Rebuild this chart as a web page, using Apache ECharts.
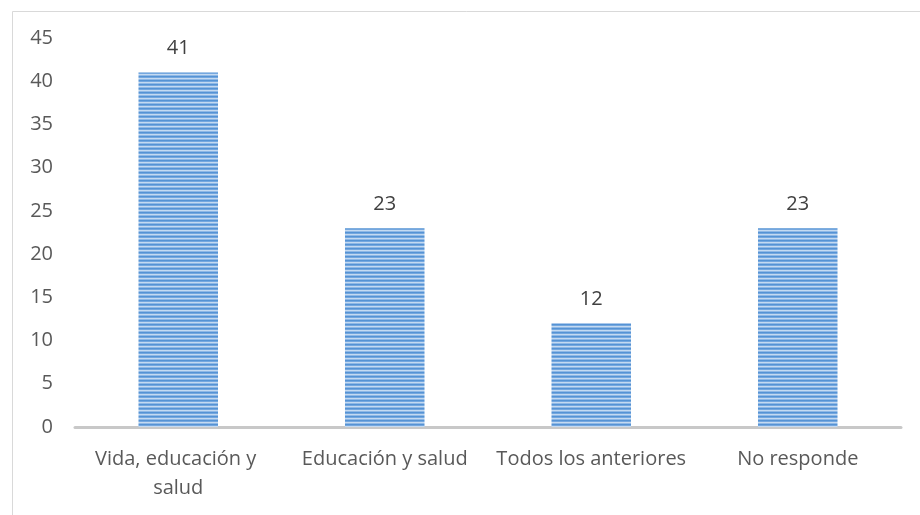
<!DOCTYPE html>
<html>
<head>
<meta charset="utf-8">
<script src="https://cdn.jsdelivr.net/npm/echarts@6/dist/echarts.min.js"></script>
<style>html,body{margin:0;padding:0;background:#fff}#c{width:920px;height:515px}</style>
</head>
<body>
<div id="c"></div>
<script>
const categories = ['Vida, educación y salud', 'Educación y salud', 'Todos los anteriores', 'No responde'];
const values = [41, 23, 12, 23];
const yTicks = {min: 0, max: 45, interval: 5};

function stripePattern() {
  const cv = document.createElement('canvas');
  cv.width = 4; cv.height = 4;
  const ctx = cv.getContext('2d');
  const rows = ['#5593d4', '#74a7df', '#c4daf1', '#8fb8e6'];
  rows.forEach((c, i) => { ctx.fillStyle = c; ctx.fillRect(0, i, 4, 1); });
  return cv;
}

const chart = echarts.init(document.getElementById('c'), null, {renderer: 'canvas'});
const font = '"Open Sans", sans-serif';
chart.setOption({
  animation: false,
  backgroundColor: '#fff',
  graphic: [{
    type: 'rect', left: 10, top: 9,
    shape: {width: 930, height: 520},
    style: {fill: 'none', stroke: '#d9d9d9', lineWidth: 1}
  }],
  grid: {left: 75, right: 19, top: 38, bottom: 88, containLabel: false},
  xAxis: {
    type: 'category',
    data: categories,
    axisLine: {lineStyle: {color: '#c8c8c8', width: 3}},
    axisTick: {show: false},
    axisLabel: {
      color: '#595959', fontFamily: font, fontSize: 20, margin: 18,
      lineHeight: 29, width: 200, overflow: 'break', interval: 0
    }
  },
  yAxis: {
    type: 'value', min: yTicks.min, max: yTicks.max, interval: yTicks.interval,
    axisLine: {show: false}, axisTick: {show: false}, splitLine: {show: false},
    axisLabel: {color: '#595959', fontFamily: font, fontSize: 20, margin: 22}
  },
  series: [{
    type: 'bar',
    data: values,
    barWidth: '38.5%',
    itemStyle: {color: {image: stripePattern(), repeat: 'repeat'}},
    label: {show: true, position: 'top', distance: 14, color: '#404040', fontFamily: font, fontSize: 20}
  }]
});
</script>
</body>
</html>
